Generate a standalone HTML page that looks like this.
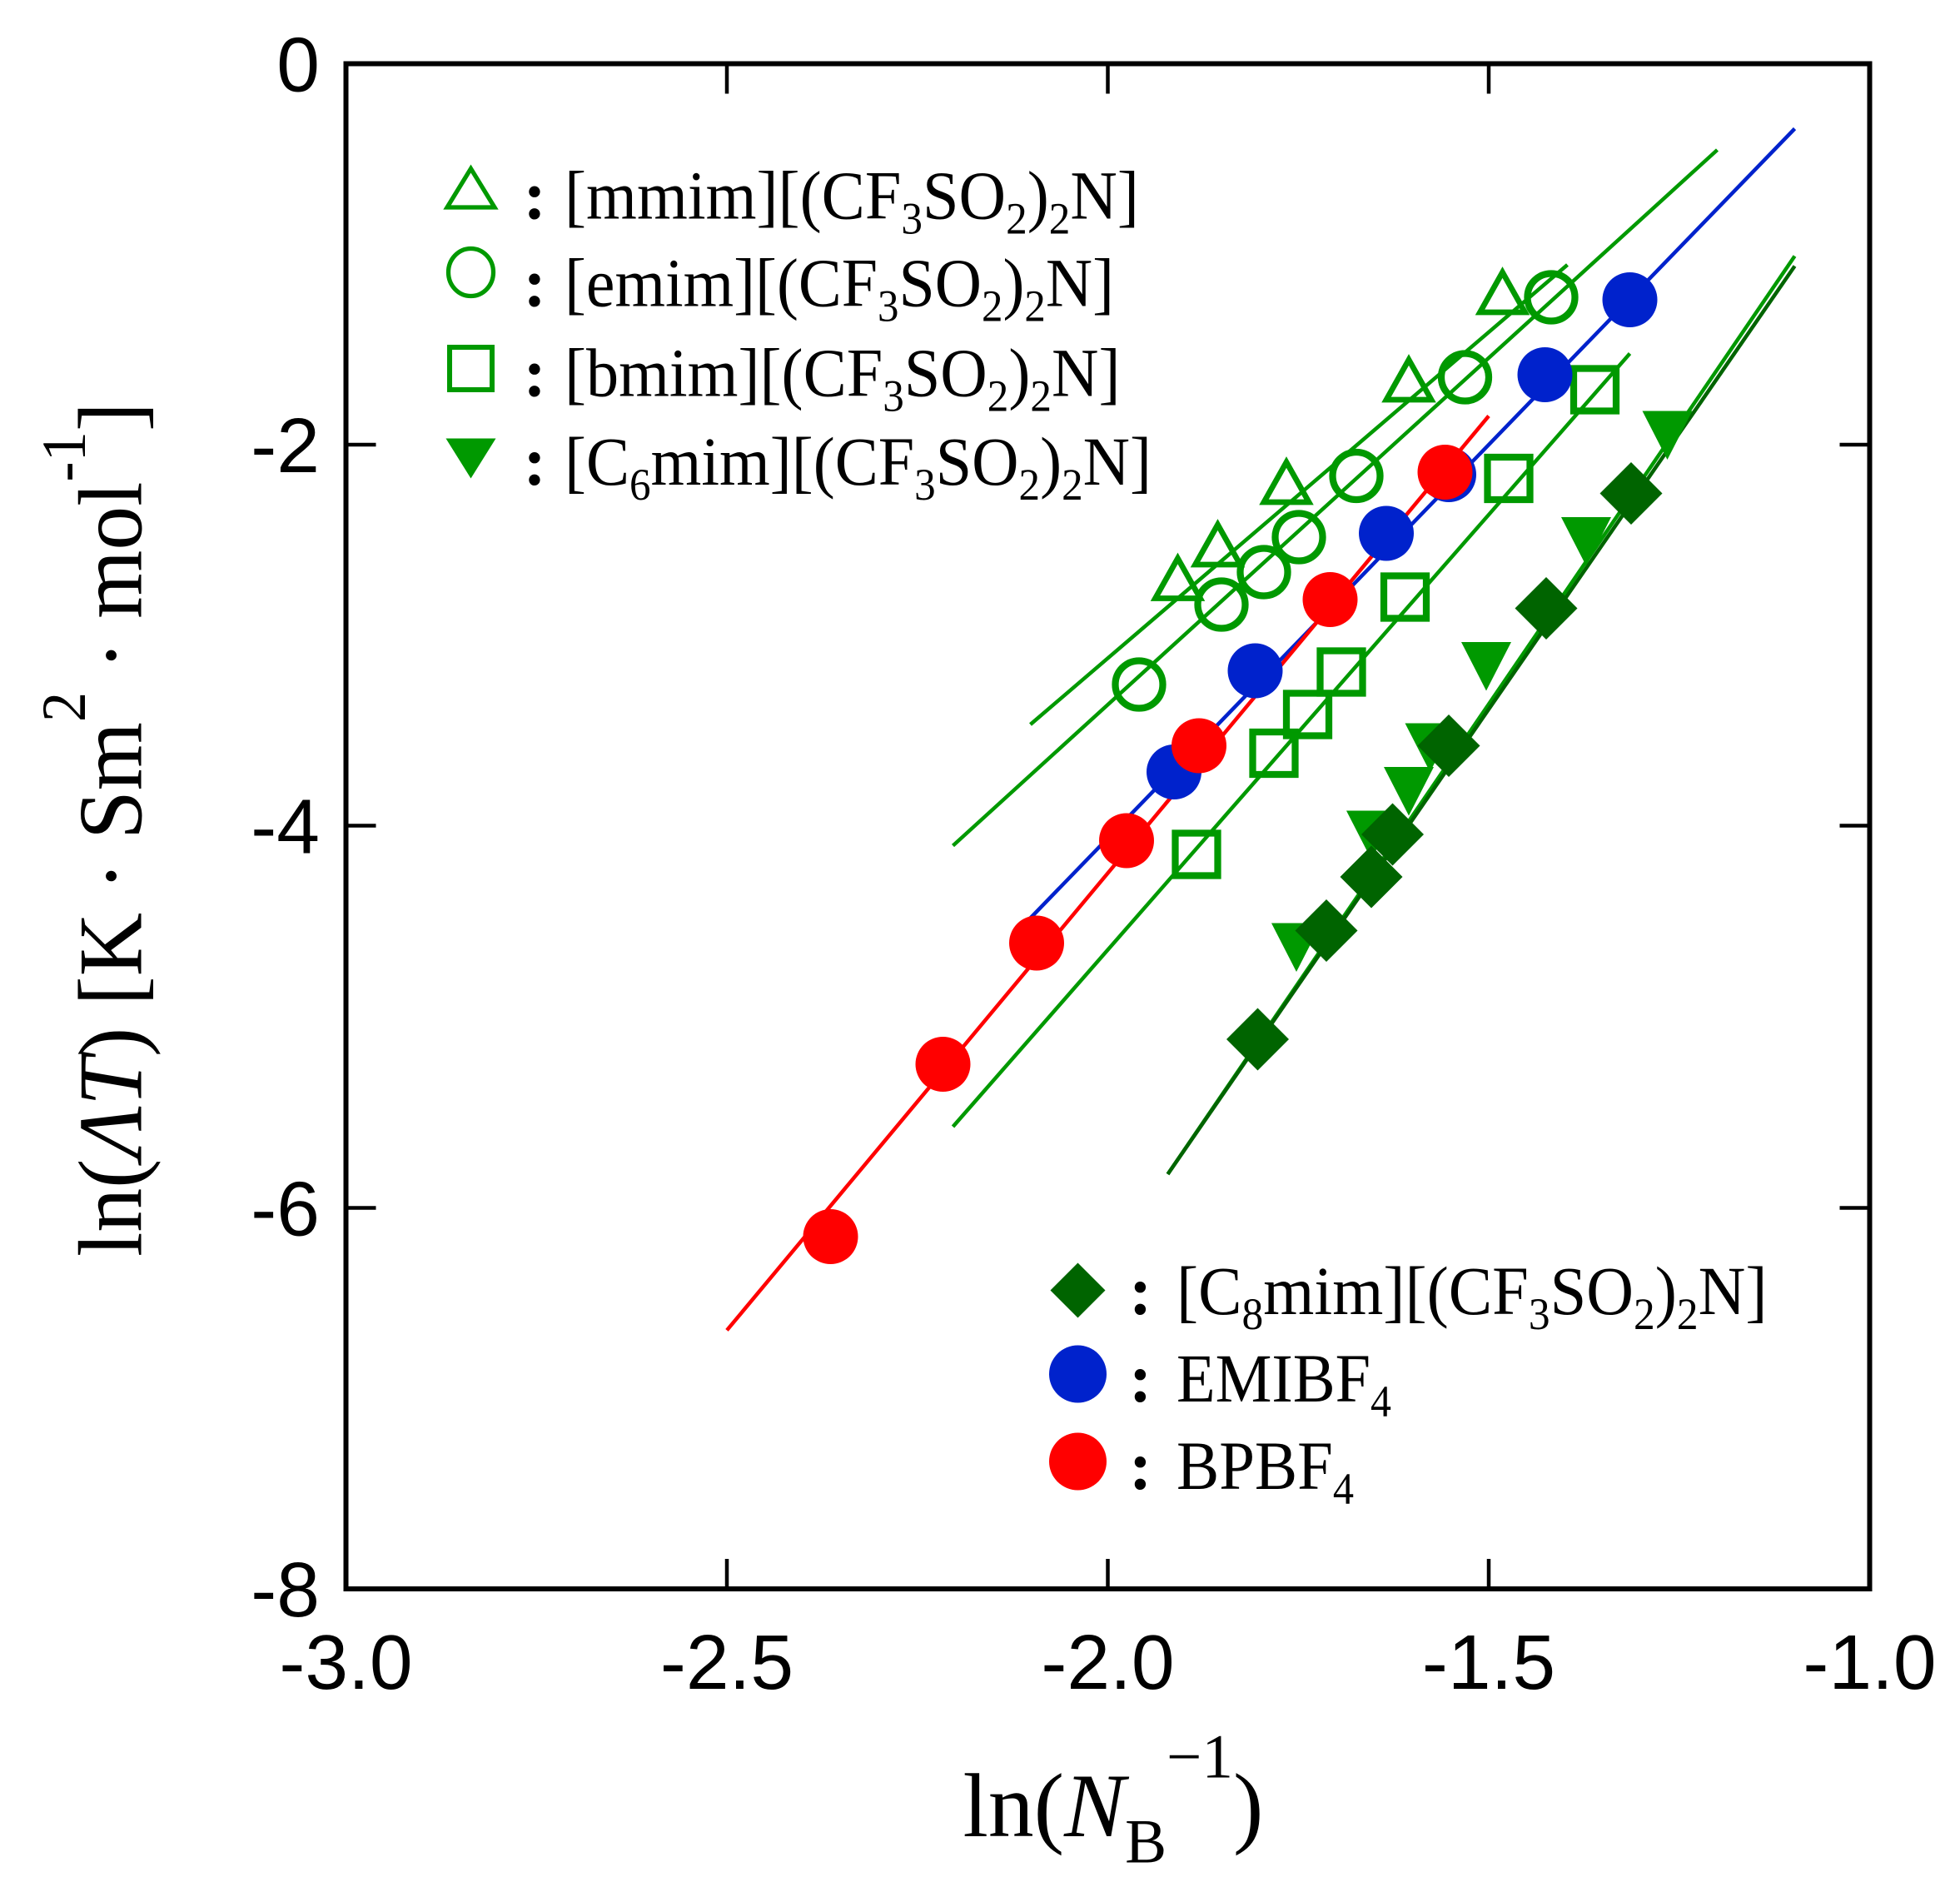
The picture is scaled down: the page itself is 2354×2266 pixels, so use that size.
<!DOCTYPE html>
<html><head><meta charset="utf-8">
<style>html,body{margin:0;padding:0;background:#fff;}svg{display:block;}</style>
</head><body>
<svg width="2354" height="2266" viewBox="0 0 1569.33 1510.67" xmlns="http://www.w3.org/2000/svg">
<defs>
<g id="tri"><polygon points="0,-20 18,12 -18,12" fill="none" stroke="#009900" stroke-width="4.5"/></g>
<g id="oc"><circle r="19" fill="none" stroke="#009900" stroke-width="5.5"/></g>
<g id="sq"><rect x="-17" y="-17" width="34" height="34" fill="none" stroke="#009900" stroke-width="5.5"/></g>
<g id="dt"><polygon points="-20,-16 20,-16 0,23" fill="#009900"/></g>
<g id="dm"><polygon points="0,-25 25,0 0,25 -25,0" fill="#006400"/></g>
<g id="bc"><circle r="22" fill="#0022cc"/></g>
<g id="rc"><circle r="22" fill="#ff0000"/></g>
</defs>
<rect width="1569.33" height="1510.67" fill="#fff"/>
<g fill="none" stroke-width="3">
<line x1="825" y1="580" x2="1255" y2="212" stroke="#009900"/>
<line x1="763" y1="677" x2="1375" y2="120" stroke="#009900"/>
<line x1="763" y1="902" x2="1305" y2="283" stroke="#009900"/>
<line x1="935" y1="940" x2="1437" y2="205" stroke="#009900"/>
<line x1="935" y1="940" x2="1437" y2="213" stroke="#006400"/>
<line x1="825" y1="735" x2="1437" y2="103" stroke="#0022cc"/>
<line x1="582" y1="1065" x2="1192" y2="333" stroke="#ff0000"/>
</g>
<g>
<use href="#sq" x="958" y="684"/><use href="#sq" x="1020" y="603"/><use href="#sq" x="1047" y="572"/><use href="#sq" x="1074" y="538"/><use href="#sq" x="1125" y="478"/><use href="#sq" x="1208" y="383"/><use href="#sq" x="1277" y="312"/>
<use href="#dt" x="1038" y="755"/><use href="#dt" x="1098" y="665"/><use href="#dt" x="1128" y="630"/><use href="#dt" x="1145" y="595"/><use href="#dt" x="1190" y="530"/><use href="#dt" x="1270" y="430"/><use href="#dt" x="1335" y="345"/>
<use href="#dm" x="1007" y="832"/><use href="#dm" x="1062" y="745"/><use href="#dm" x="1098" y="702"/><use href="#dm" x="1115" y="668"/><use href="#dm" x="1160" y="597"/><use href="#dm" x="1238" y="487"/><use href="#dm" x="1306" y="395"/>
<use href="#bc" x="940" y="618"/><use href="#bc" x="1005" y="537"/><use href="#bc" x="1110" y="427"/><use href="#bc" x="1160" y="380"/><use href="#bc" x="1237" y="300"/><use href="#bc" x="1305" y="240"/>
<use href="#rc" x="665" y="990"/><use href="#rc" x="755" y="852"/><use href="#rc" x="830" y="755"/><use href="#rc" x="902" y="673"/><use href="#rc" x="960" y="597"/><use href="#rc" x="1065" y="480"/><use href="#rc" x="1157" y="378"/>
<use href="#oc" x="912" y="548"/><use href="#oc" x="978" y="484"/><use href="#oc" x="1012" y="458"/><use href="#oc" x="1040" y="430"/><use href="#oc" x="1086" y="381"/><use href="#oc" x="1173" y="302"/><use href="#oc" x="1242" y="238"/>
<use href="#tri" x="943" y="467"/><use href="#tri" x="975" y="440"/><use href="#tri" x="1030" y="390"/><use href="#tri" x="1128" y="308"/><use href="#tri" x="1203" y="238"/>
</g>
<rect x="277" y="51" width="1220" height="1221" fill="none" stroke="#000" stroke-width="4"/>
<g stroke="#000" stroke-width="3">
<line x1="582" y1="1272" x2="582" y2="1248"/><line x1="887" y1="1272" x2="887" y2="1248"/><line x1="1192" y1="1272" x2="1192" y2="1248"/>
<line x1="582" y1="51" x2="582" y2="75"/><line x1="887" y1="51" x2="887" y2="75"/><line x1="1192" y1="51" x2="1192" y2="75"/>
<line x1="277" y1="356" x2="301" y2="356"/><line x1="277" y1="661" x2="301" y2="661"/><line x1="277" y1="967" x2="301" y2="967"/>
<line x1="1497" y1="356" x2="1473" y2="356"/><line x1="1497" y1="661" x2="1473" y2="661"/><line x1="1497" y1="967" x2="1473" y2="967"/>
</g>
<g font-family="Liberation Sans, sans-serif" font-size="62" fill="#000">
<g text-anchor="middle">
<text x="277" y="1352">-3.0</text><text x="582" y="1352">-2.5</text><text x="887" y="1352">-2.0</text><text x="1192" y="1352">-1.5</text><text x="1497" y="1352">-1.0</text>
</g>
<g text-anchor="end">
<text x="256" y="73">0</text><text x="256" y="378">-2</text><text x="256" y="683">-4</text><text x="256" y="989">-6</text><text x="256" y="1294">-8</text>
</g>
</g>
<g font-family="Liberation Serif, serif" fill="#000">
<text x="771" y="1470" font-size="73">ln(<tspan font-style="italic">N</tspan><tspan font-size="50" dy="21">B</tspan><tspan font-size="50" dy="-68">−1</tspan><tspan dy="47">)</tspan></text>
<g transform="translate(113,1006) rotate(-90)">
<text x="0" y="0" font-size="73" textLength="684" lengthAdjust="spacingAndGlyphs">ln(<tspan font-style="italic">ΛT</tspan>)  [K · Sm<tspan font-size="50" dy="-45">2</tspan><tspan dy="45"> · mol</tspan><tspan font-size="50" dy="-45">-1</tspan><tspan dy="45">]</tspan></text>
</g>
</g>
<g>
<polygon points="377,135 396,166 358,166" fill="none" stroke="#009900" stroke-width="3.5"/>
<ellipse cx="377" cy="218" rx="18" ry="19" fill="none" stroke="#009900" stroke-width="3.5"/>
<rect x="360" y="278" width="34" height="34" fill="none" stroke="#009900" stroke-width="4"/>
<polygon points="357,351 397,351 377,383" fill="#009900"/>
</g>
<g font-family="Liberation Serif, serif" font-size="55" fill="#000">
<g font-weight="bold"><text x="419" y="175">:</text><text x="419" y="245">:</text><text x="419" y="317">:</text><text x="419" y="388">:</text></g>
<text x="452" y="175" textLength="460" lengthAdjust="spacingAndGlyphs">[mmim][(CF<tspan font-size="36" dy="12">3</tspan><tspan dy="-12">SO</tspan><tspan font-size="36" dy="12">2</tspan><tspan dy="-12">)</tspan><tspan font-size="36" dy="12">2</tspan><tspan dy="-12">N]</tspan></text>
<text x="452" y="245" textLength="440" lengthAdjust="spacingAndGlyphs">[emim][(CF<tspan font-size="36" dy="12">3</tspan><tspan dy="-12">SO</tspan><tspan font-size="36" dy="12">2</tspan><tspan dy="-12">)</tspan><tspan font-size="36" dy="12">2</tspan><tspan dy="-12">N]</tspan></text>
<text x="452" y="317" textLength="445" lengthAdjust="spacingAndGlyphs">[bmim][(CF<tspan font-size="36" dy="12">3</tspan><tspan dy="-12">SO</tspan><tspan font-size="36" dy="12">2</tspan><tspan dy="-12">)</tspan><tspan font-size="36" dy="12">2</tspan><tspan dy="-12">N]</tspan></text>
<text x="452" y="388" textLength="470" lengthAdjust="spacingAndGlyphs">[C<tspan font-size="36" dy="12">6</tspan><tspan dy="-12">mim][(CF</tspan><tspan font-size="36" dy="12">3</tspan><tspan dy="-12">SO</tspan><tspan font-size="36" dy="12">2</tspan><tspan dy="-12">)</tspan><tspan font-size="36" dy="12">2</tspan><tspan dy="-12">N]</tspan></text>
</g>
<polygon points="863,1011 885,1033 863,1055 841,1033" fill="#006400"/>
<circle cx="863" cy="1100" r="23" fill="#0022cc"/>
<circle cx="863" cy="1170" r="23" fill="#ff0000"/>
<g font-family="Liberation Serif, serif" font-size="55" fill="#000">
<g font-weight="bold"><text x="904" y="1052">:</text><text x="904" y="1122">:</text><text x="904" y="1192">:</text></g>
<text x="942" y="1052" textLength="473" lengthAdjust="spacingAndGlyphs">[C<tspan font-size="36" dy="12">8</tspan><tspan dy="-12">mim][(CF</tspan><tspan font-size="36" dy="12">3</tspan><tspan dy="-12">SO</tspan><tspan font-size="36" dy="12">2</tspan><tspan dy="-12">)</tspan><tspan font-size="36" dy="12">2</tspan><tspan dy="-12">N]</tspan></text>
<text x="942" y="1122" textLength="172" lengthAdjust="spacingAndGlyphs">EMIBF<tspan font-size="36" dy="12">4</tspan></text>
<text x="942" y="1192" textLength="142" lengthAdjust="spacingAndGlyphs">BPBF<tspan font-size="36" dy="12">4</tspan></text>
</g>
</svg>
</body></html>
